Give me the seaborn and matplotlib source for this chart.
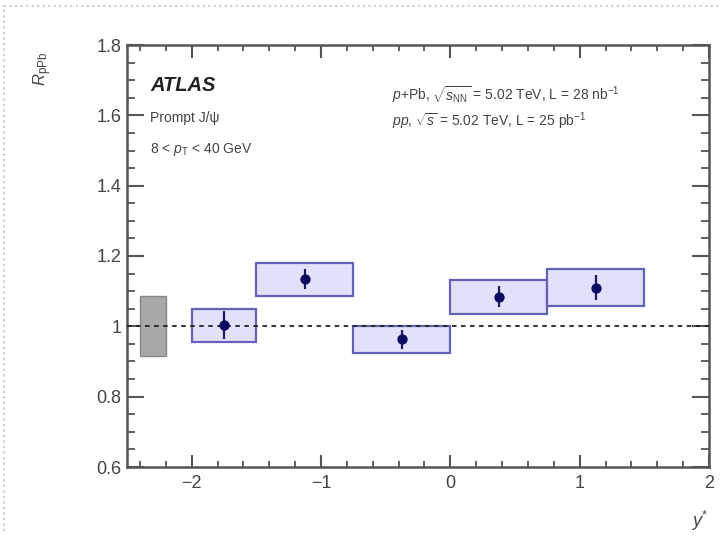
import matplotlib
matplotlib.use("Agg")
import matplotlib.pyplot as plt
import seaborn as sns
import numpy as np
import pandas as pd
from matplotlib.ticker import MultipleLocator, FixedLocator, FixedFormatter
from matplotlib.lines import Line2D

# ---- data ----
y_star = [-1.75, -1.125, -0.375, 0.375, 1.125]
half_width = [0.25, 0.375, 0.375, 0.375, 0.375]
r_ppb = [1.003, 1.134, 0.963, 1.084, 1.110]
stat_err = [0.040, 0.028, 0.027, 0.030, 0.035]
sys_err = [0.047, 0.047, 0.039, 0.048, 0.052]
norm_center = [-2.3]
norm_width = [0.2]
norm_err = [0.085]
x_ticks = [-2, -1, 0, 1, 2]
x_tick_labels = ["\u22122", "\u22121", "0", "1", "2"]
y_ticks = [0.6, 0.8, 1.0, 1.2, 1.4, 1.6, 1.8]
y_tick_labels = ["0.6", "0.8", "1", "1.2", "1.4", "1.6", "1.8"]

df = pd.DataFrame({"y": y_star, "hw": half_width, "R": r_ppb,
                   "stat": stat_err, "sys": sys_err})

sns.set_theme(style="ticks")
plt.rcParams["font.family"] = ["Liberation Sans", "DejaVu Sans"]
plt.rcParams["mathtext.fontset"] = "custom"
plt.rcParams["mathtext.rm"] = "Liberation Sans"
plt.rcParams["mathtext.it"] = "Liberation Sans:italic"
plt.rcParams["mathtext.bf"] = "Liberation Sans:bold"

fig = plt.figure(figsize=(7.22, 5.36), dpi=100)
ax = fig.add_axes([127 / 722, 69 / 536, 582 / 722, 422 / 536])

spine_col = "#555555"
text_col = "#444444"

# normalisation uncertainty box
ax.bar(norm_center, [2 * e for e in norm_err], bottom=[1 - e for e in norm_err],
       width=norm_width, color="#a8a8a8", edgecolor="#888888", linewidth=1.0, zorder=2)

# systematic boxes
ax.bar(df["y"], 2 * df["sys"], bottom=df["R"] - df["sys"], width=2 * df["hw"],
       color="#e1e1fb", edgecolor="#6262b8", linewidth=1.6, zorder=2)

# reference line
ax.axhline(1.0, color="#222222", linestyle=(0, (2.5, 2.5)), linewidth=1.3, zorder=3)

# statistical error bars and points
ax.errorbar(df["y"], df["R"], yerr=df["stat"], fmt="none", ecolor="#1a1a66",
            elinewidth=1.6, capsize=0, zorder=4)
sns.scatterplot(data=df, x="y", y="R", ax=ax, color="#0a0a60", s=55,
                edgecolor="#0a0a60", linewidth=0, zorder=5, legend=False)

ax.set_xlim(-2.5, 2.0)
ax.set_ylim(0.6, 1.8)
ax.xaxis.set_major_locator(FixedLocator(x_ticks))
ax.xaxis.set_major_formatter(FixedFormatter(x_tick_labels))
ax.xaxis.set_minor_locator(MultipleLocator(0.2))
ax.yaxis.set_major_locator(FixedLocator(y_ticks))
ax.yaxis.set_major_formatter(FixedFormatter(y_tick_labels))
ax.yaxis.set_minor_locator(MultipleLocator(0.05))

ax.tick_params(axis="both", which="both", direction="in", top=True, right=True,
               color=spine_col, labelcolor=text_col, labelsize=13)
ax.tick_params(axis="y", which="major", length=12, width=1.5, pad=4)
ax.tick_params(axis="y", which="minor", length=6, width=1.3)
ax.tick_params(axis="x", which="major", length=9, width=1.5, pad=6)
ax.tick_params(axis="x", which="minor", length=4.5, width=1.3)
for s in ax.spines.values():
    s.set_color(spine_col)
    s.set_linewidth(1.8)

ax.set_xlabel("$y^{*}$", loc="right", fontsize=13, color=text_col)
ax.xaxis.set_label_coords(1.0, -0.10)
ax.set_ylabel("$R_{\\mathrm{pPb}}$", loc="top", fontsize=12, color=text_col)
ax.yaxis.set_label_coords(-0.125, 0.985)

# annotations
ax.text(0.040, 0.905, "ATLAS", transform=ax.transAxes, fontsize=14.5,
        fontweight="bold", fontstyle="italic", color="#222222", va="center")
ax.text(0.040, 0.826, "Prompt J/\u03c8", transform=ax.transAxes, fontsize=10,
        color=text_col, va="center", family=["Liberation Sans", "DejaVu Sans"])
ax.text(0.040, 0.753, "8 < $p_{\\mathrm{T}}$ < 40 GeV", transform=ax.transAxes,
        fontsize=10, color=text_col, va="center")
ax.text(0.455, 0.883, "$p$+Pb, $\\sqrt{s_{\\mathrm{NN}}}$ = 5.02 TeV, L = 28 nb$^{-1}$",
        transform=ax.transAxes, fontsize=10, color=text_col, va="center")
ax.text(0.455, 0.818, "$pp$, $\\sqrt{s}$ = 5.02 TeV, L = 25 pb$^{-1}$",
        transform=ax.transAxes, fontsize=10, color=text_col, va="center")

# faint scan border
fig.add_artist(Line2D([0.005, 0.995], [0.988, 0.988], transform=fig.transFigure,
                      color="#cccccc", linestyle=":", linewidth=1.5))
fig.add_artist(Line2D([0.006, 0.006], [0.01, 0.99], transform=fig.transFigure,
                      color="#cccccc", linestyle=":", linewidth=1.5))

fig.savefig("out.png", dpi=100)
